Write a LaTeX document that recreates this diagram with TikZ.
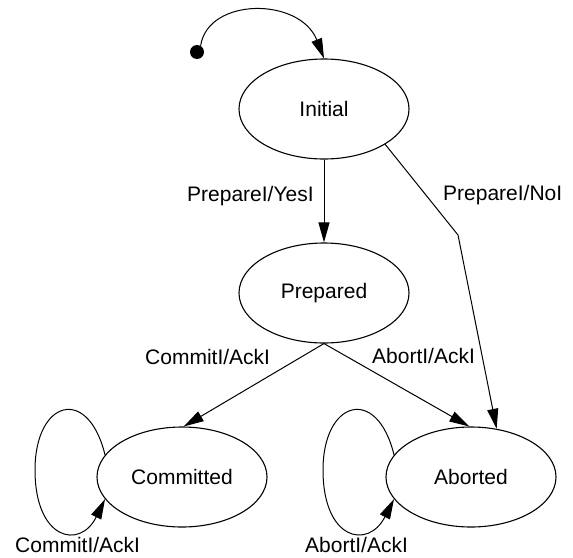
\documentclass[tikz,border=0pt]{standalone}
\usepackage{fontspec}
\setmainfont{Liberation Sans}
\usepackage{tikz}
\usetikzlibrary{arrows.meta,shapes.geometric,positioning,calc}

\begin{document}
\begin{tikzpicture}[
  x=1pt,y=-1pt,
  every node/.style={font=\fontsize{21}{25}\selectfont},
  state/.style={draw,line width=1.1pt,ellipse,inner sep=0pt,
                minimum width=170pt,minimum height=100pt},
  startdot/.style={circle,fill=black,inner sep=0pt,minimum size=14pt},
  lbl/.style={anchor=base west,inner sep=0pt},
  arr/.style={-{Triangle[length=20pt,width=11pt]},line width=1pt},
]
\useasboundingbox (0,0) rectangle (573,557);

%% ── States ───────────────────────────────────────────────────────────────
\node[startdot] (start) at (197,52) {};
\node[state] (init) at (324,109) {Initial};
\node[state] (prep) at (324,293) {Prepared};
\node[state] (comm) at (182,477) {Committed};
\node[state] (abrt) at (471,477) {Aborted};

%% ── Bend of the Prepare/No edge ──────────────────────────────────────────
\coordinate (nobend) at (458,235);

%% ── Transitions ──────────────────────────────────────────────────────────
\draw[arr] (start.60) .. controls (208,-3) and (300,-3) .. (init.north);
\draw[arr] (init.south) -- (prep.north);
\draw[arr] (init.-30) -- (nobend) -- (abrt.62);
\draw[arr] (prep.south) -- (comm.88);
\draw[arr] (prep.south) -- (abrt.92);

%% self loops
\draw[arr] (comm.164) .. controls (88,385) and (35,400) .. (35,470)
                      .. controls (35,540) and (80,550) .. (comm.196);
\draw[arr] (abrt.164) .. controls (377,385) and (323,400) .. (323,470)
                      .. controls (323,540) and (368,550) .. (abrt.196);

%% ── Labels ───────────────────────────────────────────────────────────────
\node[lbl] (lyes)   at (187,201) {PrepareI/YesI};
\node[lbl] (lno)    at (443,200) {PrepareI/NoI};
\node[lbl] (lcomm)  at (145,364) {CommitI/AckI};
\node[lbl] (labrt)  at (372,363) {AbortI/AckI};
\node[lbl] (lcommx) at (15,552)  {CommitI/AckI};
\node[lbl] (labrtx) at (305,552) {AbortI/AckI};

\end{tikzpicture}
\end{document}
